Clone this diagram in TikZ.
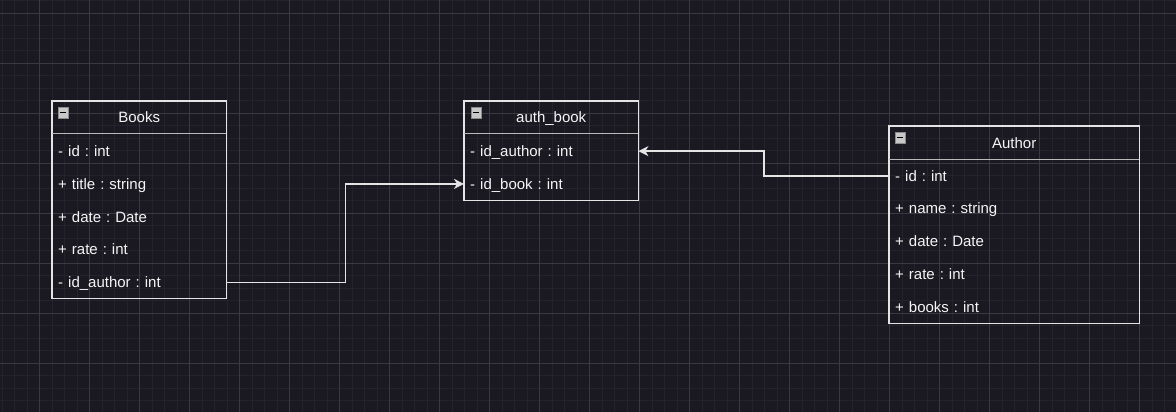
\documentclass[tikz,border=0pt]{standalone}
\usepackage{fontspec}
\setmainfont{Liberation Sans}
\frenchspacing
\usetikzlibrary{positioning,arrows.meta}
\definecolor{bgcol}{RGB}{26,24,32}
\definecolor{minorcol}{RGB}{36,34,42}
\definecolor{majorcol}{RGB}{58,56,64}
\definecolor{framecol}{RGB}{228,228,228}
\definecolor{sepcol}{RGB}{185,185,185}
\definecolor{txtcol}{RGB}{245,245,245}
\definecolor{iconfill}{RGB}{200,200,200}
\definecolor{iconline}{RGB}{140,140,140}
\tikzset{
  head/.style={anchor=north west, minimum height=32pt, inner sep=0pt, text=txtcol, text height=13.5pt, text depth=2.8pt},
  field/.style={minimum height=32.4pt, inner xsep=6pt, inner ysep=0pt, text width=#1, align=left, text=txtcol, text height=13.5pt, text depth=2.8pt},
  frame/.style={draw=framecol, line width=1.3pt},
  sep/.style={draw=sepcol, line width=1.6pt},
  minus/.style={draw=iconline, fill=iconfill, line width=0.8pt, minimum size=10.5pt, inner sep=0pt, path picture={\draw[black, line width=1.6pt] ([xshift=2pt]path picture bounding box.west) -- ([xshift=-2pt]path picture bounding box.east);}},
  link/.style={draw=framecol, line width=1.4pt, -{Stealth[length=10pt,width=10pt,inset=3pt]}},
}
\begin{document}
\begin{tikzpicture}[x=1pt,y=-1pt,font=\fontsize{15}{18}\selectfont]
\useasboundingbox[fill=bgcol] (0,0) rectangle (1176,412);
% Raster
\begin{scope}
\clip (0,0) rectangle (1176,412);
\foreach \i in {0,...,93} \draw[minorcol, line width=1pt] ({2+12.5*\i},0) -- ({2+12.5*\i},412);
\foreach \j in {0,...,32} \draw[minorcol, line width=1pt] (0,{0.8+12.5*\j}) -- (1176,{0.8+12.5*\j});
\foreach \i in {0,...,22} \draw[majorcol, line width=1pt] ({39.5+50*\i},0) -- ({39.5+50*\i},412);
\foreach \j in {0,...,7} \draw[majorcol, line width=1pt] (0,{13.3+50*\j}) -- (1176,{13.3+50*\j});
\end{scope}

% Books
\node[head, minimum width=174pt] (books) at (52,101) {Books};
\node[field=162pt, below=1.3pt of books] (booksId) {- id : int};
\node[field=162pt, below=0pt of booksId] (booksTitle) {+ title : string};
\node[field=162pt, below=0pt of booksTitle] (booksDate) {+ date : Date};
\node[field=162pt, below=0pt of booksDate] (booksRate) {+ rate : int};
\node[field=162pt, below=0pt of booksRate] (booksIdAuthor) {- id\_author : int};
\draw[frame] (books.north west) rectangle (booksIdAuthor.south east);
\draw[sep] (books.south west) -- (books.south east);
\node[minus, below right=6pt and 5.5pt of books.north west] (booksIcon) {};

% auth_book
\node[head, minimum width=174pt] (ab) at (464,101) {auth\_book};
\node[field=162pt, below=1.3pt of ab] (abIdAuthor) {- id\_author : int};
\node[field=162pt, below=0pt of abIdAuthor] (abIdBook) {- id\_book : int};
\draw[frame] (ab.north west) rectangle (abIdBook.south east);
\draw[sep] (ab.south west) -- (ab.south east);
\node[minus, below right=6pt and 6.5pt of ab.north west] (abIcon) {};

% Author
\node[head, minimum width=250pt, minimum height=33pt] (author) at (889,126) {Author};
\node[field=238pt, below=0pt of author] (auId) {- id : int};
\node[field=238pt, below=0pt of auId] (auName) {+ name : string};
\node[field=238pt, below=0pt of auName] (auDate) {+ date : Date};
\node[field=238pt, below=0pt of auDate] (auRate) {+ rate : int};
\node[field=238pt, below=0pt of auRate] (auBooks) {+ books : int};
\draw[frame] (author.north west) rectangle (auBooks.south east);
\draw[sep] (author.south west) -- (author.south east);
\node[minus, below right=6pt and 5.5pt of author.north west] (auIcon) {};

\draw[link] (booksIdAuthor.east) -- ++(119,0) |- (abIdBook.west);
\draw[link] (auId.west) -- ++(-125,0) |- (abIdAuthor.east);
\end{tikzpicture}
\end{document}
